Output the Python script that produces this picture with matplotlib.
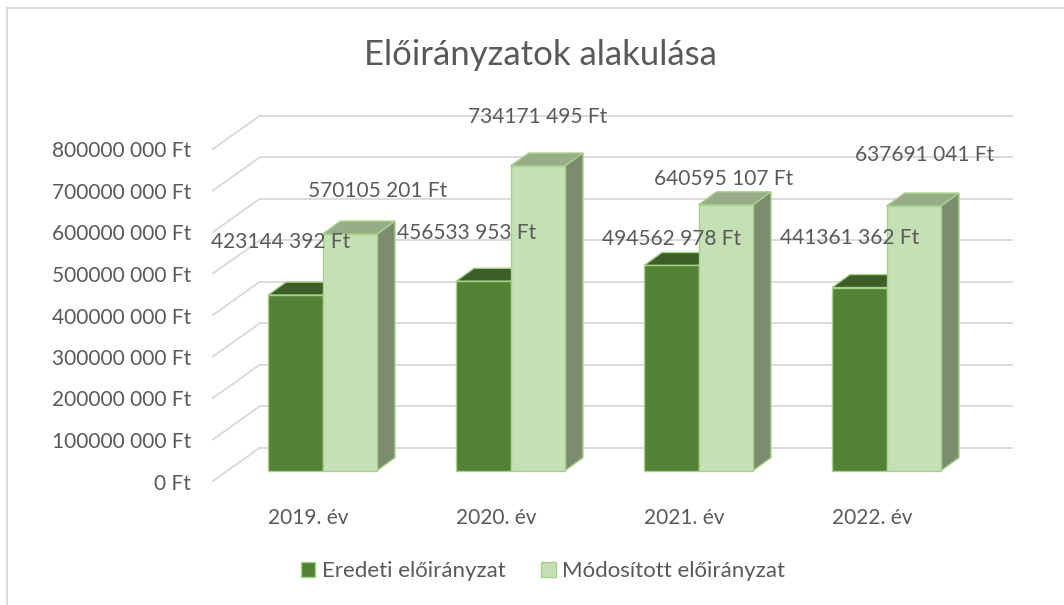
import matplotlib
matplotlib.use('Agg')
import matplotlib.pyplot as plt
from matplotlib.patches import Polygon, Rectangle, Patch

# ---------------- data ----------------
categories = ['2019. év', '2020. év', '2021. év', '2022. év']
eredeti = [423144392, 456533953, 494562978, 441361362]
modositott = [570105201, 734171495, 640595107, 637691041]
series_names = ['Eredeti előirányzat', 'Módosított előirányzat']
y_ticks = [0, 100e6, 200e6, 300e6, 400e6, 500e6, 600e6, 700e6, 800e6]
title = 'Előirányzatok alakulása'

# label offsets (pixels) relative to top-front centre of each bar
off_eredeti = [(-15, 53), (-17, 48), (0, 26), (-10, 50)]
off_modositott = [(28, 43), (0, 49), (-2, 26), (11, 51)]

# ---------------- style ----------------
FONT = 'Lato'
TXT = '#595959'
DARK_FRONT, DARK_TOP, DARK_SIDE = '#548235', '#3D5F27', '#36511F'
LIGHT_FRONT, LIGHT_TOP, LIGHT_SIDE = '#C5E0B4', '#96AD87', '#7B8C6F'
EDGE = '#A9D18E'
GRID = '#D9D9D9'

W, H = 1064, 605
fig = plt.figure(figsize=(W / 100, H / 100), dpi=100)

# axes geometry in pixels
ax_l, ax_r, ax_t, ax_b = 200, 1050, 90, 500
ax = fig.add_axes([ax_l / W, 1 - ax_b / H, (ax_r - ax_l) / W, (ax_b - ax_t) / H])
ax.axis('off')

x0_px = 322.5        # pixel x of category 0 centre (front plane)
cat_px = 188.0       # pixels per category
y0_px = 470.7        # pixel y of value 0 (bar front plane)
val_per_px = 1 / 4.15e-7

ax.set_xlim((ax_l - x0_px) / cat_px, (ax_r - x0_px) / cat_px)
ax.set_ylim((y0_px - ax_b) * val_per_px, (y0_px - ax_t) * val_per_px)

def xpx(p):
    return (p - x0_px) / cat_px

def dpx(n):
    return n * val_per_px

# ---------------- walls / gridlines ----------------
back_dy = 23.1       # back wall raised relative to bar front plane
front_dy = -10.3     # floor front lowered
for v in y_ticks:
    yb = v + dpx(back_dy)
    yf = v + dpx(front_dy)
    ax.plot([xpx(260), xpx(1013)], [yb, yb], color=GRID, lw=1.3, zorder=1,
            solid_capstyle='butt')
    ax.plot([xpx(260), xpx(213)], [yb, yf], color=GRID, lw=1.3, zorder=1)
    lab = '0 Ft' if v == 0 else f"{int(v // 1000)} {int(v % 1000):03d} Ft"
    ax.text(xpx(191), yf - dpx(2.5), lab, ha='right', va='center',
            fontsize=15, color=TXT, family=FONT)

# ---------------- bars ----------------
bw = 54.5 / cat_px
ddx = 18 / cat_px
ddy = dpx(13)
xs = list(range(len(categories)))

def draw_3d(xc, vals, front, top, side, z):
    bars = ax.bar([x for x in xc], vals, width=bw, color=front,
                  edgecolor=EDGE, linewidth=1.0, zorder=z + 0.5)
    for b in bars:
        x0 = b.get_x()
        x1 = x0 + b.get_width()
        v = b.get_height()
        ax.add_patch(Polygon([(x0, v), (x1, v), (x1 + ddx, v + ddy), (x0 + ddx, v + ddy)],
                             closed=True, facecolor=top, edgecolor=EDGE, lw=1.0, zorder=z))
        ax.add_patch(Polygon([(x1, 0), (x1 + ddx, ddy), (x1 + ddx, v + ddy), (x1, v)],
                             closed=True, facecolor=side, edgecolor=EDGE, lw=1.0, zorder=z))
    return bars

bars_e = draw_3d([x - bw / 2 for x in xs], eredeti, DARK_FRONT, DARK_TOP, DARK_SIDE, 2)
bars_m = draw_3d([x + bw / 2 for x in xs], modositott, LIGHT_FRONT, LIGHT_TOP, LIGHT_SIDE, 3)

def fmt(v):
    return f"{v // 1000} {v % 1000:03d} Ft"

for bars, vals, offs in ((bars_e, eredeti, off_eredeti), (bars_m, modositott, off_modositott)):
    for b, v, (ox, oy) in zip(bars, vals, offs):
        ax.annotate(fmt(v), (b.get_x() + b.get_width() / 2, v), xytext=(ox, oy),
                    textcoords='offset pixels', ha='center', va='center',
                    fontsize=15, color=TXT, family=FONT, zorder=6)

# category labels on floor front
for x, c in zip(xs, categories):
    ax.text(x - 14.7 / cat_px, dpx(470.7 - 518), c, ha='center', va='center',
            fontsize=15, color=TXT, family=FONT)

# ---------------- title ----------------
fig.text(540 / W, 1 - 55 / H, title, ha='center', va='center', fontsize=25,
         color=TXT, family=FONT, fontweight='normal')

# ---------------- legend ----------------
handles = [Patch(facecolor=DARK_FRONT, edgecolor=EDGE),
           Patch(facecolor=LIGHT_FRONT, edgecolor=EDGE)]
fig.legend(handles, series_names, loc='center', bbox_to_anchor=(543 / W, 1 - 571 / H),
           ncol=2, frameon=False, handlelength=0.65, handleheight=0.65,
           handletextpad=0.3, columnspacing=1.6,
           prop={'family': FONT, 'size': 16}, labelcolor=TXT)

# ---------------- outer frame ----------------
fig.add_artist(Rectangle((7 / W, -0.1), 1.2, 1 - 8 / H + 0.1, transform=fig.transFigure,
                         facecolor='none', edgecolor='#D9D9D9', lw=1.3))

fig.savefig('out.png', dpi=100)
